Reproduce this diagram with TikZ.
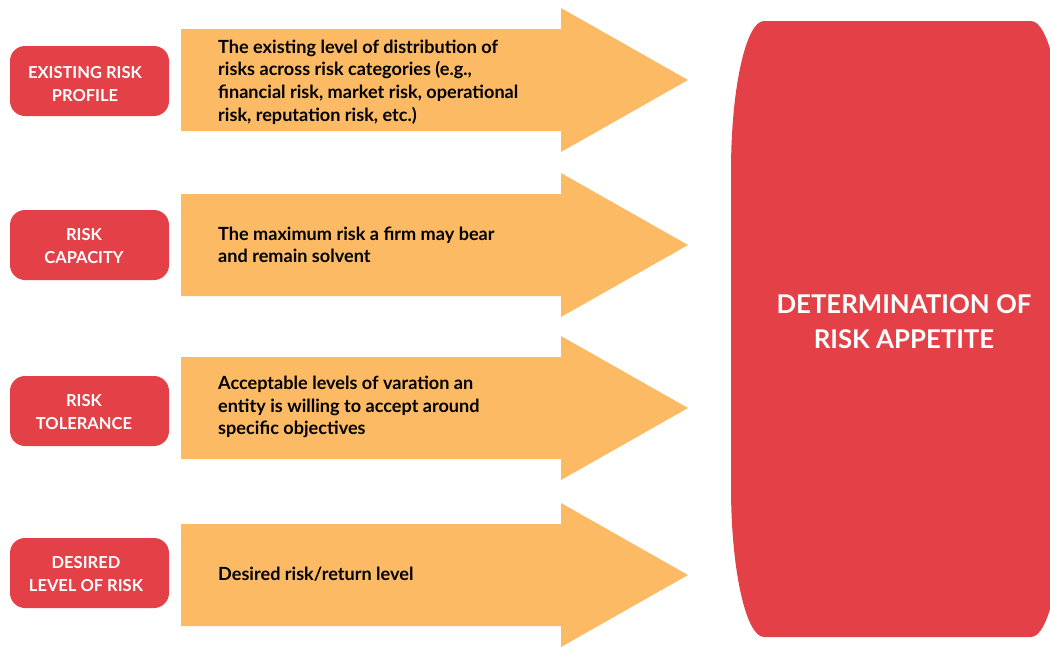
\documentclass[tikz,border=0pt]{standalone}
\usepackage{fontspec}
\setmainfont{Lato}
\definecolor{riskred}{HTML}{E34147}
\definecolor{flowamber}{HTML}{FBBA63}
\begin{document}
\begin{tikzpicture}[x=1pt,y=-1pt,
  factorbox/.style={fill=riskred,rounded corners=15pt,minimum width=159pt,minimum height=70pt,inner sep=0pt},
  factortext/.style={text=white,font=\bfseries\fontsize{16.5}{23}\selectfont,align=center,inner sep=0pt},
  flowtext/.style={text=black,font=\bfseries\fontsize{18.1}{22.6}\selectfont,align=left,anchor=west,inner sep=0pt},
  arrowbody/.style={fill=flowamber},
  goaltext/.style={text=white,font=\bfseries\fontsize{25.8}{35}\selectfont,align=center,inner sep=0pt}]
\useasboundingbox (0,0) rectangle (1050,646);
\begin{scope}
\clip (0,0) rectangle (1050,646);
% the four wide arrows
\foreach \c in {80,245,408,575}{
  \fill[arrowbody] (181,\c-51) -- (561,\c-51) -- (561,\c-72) -- (688,\c)
    -- (561,\c+72) -- (561,\c+51) -- (181,\c+51) -- cycle;
}
% the tall rounded panel on the right
\fill[riskred] (764,21) -- (1031,21)
  .. controls (1049,21) and (1064,88) .. (1064,171)
  -- (1064,487)
  .. controls (1064,570) and (1049,637) .. (1031,637)
  -- (764,637)
  .. controls (746,637) and (731,570) .. (731,487)
  -- (731,171)
  .. controls (731,88) and (746,21) .. (764,21) -- cycle;
\end{scope}
\coordinate (panel) at (904,322);
\node[goaltext] (goal) at (panel) {DETERMINATION OF\\RISK APPETITE};

% factor boxes
\node[factorbox] (b1) at (89.5,81) {};
\node[factorbox] (b2) at (89.5,245) {};
\node[factorbox] (b3) at (89.5,411) {};
\node[factorbox] (b4) at (89.5,573) {};
\node[factortext] (l1) at (85,84) {EXISTING RISK\\PROFILE};
\node[factortext] (l2) at (84,246) {RISK\\CAPACITY};
\node[factortext] (l3) at (84,412) {RISK\\TOLERANCE};
\node[factortext] (l4) at (86,574) {DESIRED\\LEVEL OF RISK};

% descriptions on the arrows
\node[flowtext] (t1) at (218,82) {The existing level of distribution of\\risks across risk categories (e.g.,\\financial risk, market risk, operational\\risk, reputation risk, etc.)};
\node[flowtext] (t2) at (218,245) {The maximum risk a firm may bear\\and remain solvent};
\node[flowtext] (t3) at (218,407) {Acceptable levels of varation an\\entity is willing to accept around\\specific objectives};
\node[flowtext] (t4) at (218,574) {Desired risk/return level};
\end{tikzpicture}
\end{document}
